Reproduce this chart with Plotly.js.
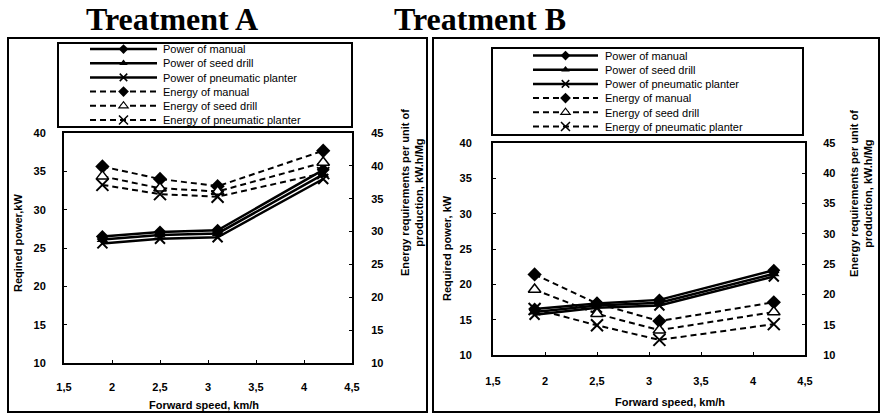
<!DOCTYPE html>
<html>
<head>
<meta charset="utf-8">
<script src="https://cdn.plot.ly/plotly-3.0.1.min.js"></script>
<style>
html,body{margin:0;padding:0;background:#fff;}
#chart{width:881px;height:416px;}
</style>
</head>
<body>
<div id="chart"></div>
<script>
// ---------- DATA ----------
const seriesNames = ["Power of manual", "Power of seed drill", "Power of pneumatic planter",
                     "Energy of manual", "Energy of seed drill", "Energy of pneumatic planter"];
const speedA = [1.9, 2.5, 3.1, 4.2];
const powerManualA   = [26.5, 27.1, 27.3, 35.2];
const powerSeedA     = [26.1, 26.7, 26.9, 34.6];
const powerPneuA     = [25.6, 26.2, 26.4, 34.0];
const energyManualA  = [39.9, 38.0, 36.9, 42.3];
const energySeedA    = [38.4, 36.6, 36.1, 40.5];
const energyPneuA    = [37.1, 35.7, 35.3, 38.9];

const speedB = [1.9, 2.5, 3.1, 4.2];
const powerManualB   = [16.5, 17.3, 17.8, 22.0];
const powerSeedB     = [16.1, 17.0, 17.4, 21.5];
const powerPneuB     = [15.7, 16.7, 17.0, 21.1];
const energyManualB  = [23.3, 18.5, 15.6, 18.7];
const energySeedB    = [20.8, 16.8, 14.1, 17.1];
const energyPneuB    = [17.6, 14.9, 12.5, 15.1];

const xTicks = [1.5, 2, 2.5, 3, 3.5, 4, 4.5];
const powerTicks = [10, 15, 20, 25, 30, 35, 40];
const energyTicks = [10, 15, 20, 25, 30, 35, 40, 45];

// ---------- STYLES ----------
const W = 881, H = 416;
const px = v => v / W;
const py = v => 1 - v / H;
const FONT = "Liberation Sans, Arial, sans-serif";

const markerStyles = [
  {symbol: "diamond", size: 10, color: "#000"},
  {symbol: "triangle-up", size: 10, color: "#000"},
  {symbol: "x-thin", size: 10, color: "#000", line: {color: "#000", width: 2}},
  {symbol: "diamond", size: 11, color: "#000"},
  {symbol: "triangle-up", size: 11, color: "#fff", line: {color: "#000", width: 1.5}},
  {symbol: "x-thin", size: 12, color: "#000", line: {color: "#000", width: 2}}
];
const lineStyles = [
  {color: "#000", width: 2.5},
  {color: "#000", width: 2.5},
  {color: "#000", width: 2.5},
  {color: "#000", width: 2, dash: "6px,4px"},
  {color: "#000", width: 2, dash: "6px,4px"},
  {color: "#000", width: 2, dash: "6px,4px"}
];

function makeTraces(xs, ys, xa, yPow, yEn, legendId) {
  return ys.map((y, i) => ({
    type: "scatter", mode: "lines+markers",
    x: xs, y: y, name: seriesNames[i],
    xaxis: xa, yaxis: i < 3 ? yPow : yEn,
    line: lineStyles[i], marker: markerStyles[i],
    legend: legendId, showlegend: true
  }));
}

const traces = [
  ...makeTraces(speedA, [powerManualA, powerSeedA, powerPneuA, energyManualA, energySeedA, energyPneuA], "x", "y", "y2", "legend"),
  ...makeTraces(speedB, [powerManualB, powerSeedB, powerPneuB, energyManualB, energySeedB, energyPneuB], "x2", "y3", "y4", "legend2")
];

const tickFont = {family: FONT, size: 11, color: "#000", weight: "bold"};
function xAxis(dom, anchor, standoff) {
  return {domain: dom, anchor: anchor, range: [1.5, 4.5], tickvals: xTicks,
    showline: true, linecolor: "#000", linewidth: 2, mirror: true,
    showgrid: false, zeroline: false, ticks: "inside", ticklen: 3, tickcolor: "#000",
    tickfont: tickFont, ticklabelstandoff: standoff, automargin: false, fixedrange: true};
}
function yAxis(dom, anchor, range, tv, side, standoff, overlay) {
  const a = {anchor: anchor, range: range, tickvals: tv, side: side,
    showline: true, linecolor: "#000", linewidth: 2, mirror: overlay ? false : true,
    showgrid: false, zeroline: false, ticks: "inside", ticklen: 3, tickcolor: "#000",
    tickfont: tickFont, ticklabelstandoff: standoff, automargin: false, fixedrange: true};
  if (overlay) a.overlaying = overlay; else a.domain = dom;
  return a;
}

const domAx = [px(64), px(352)], domAy = [py(363), py(133)];
const domBx = [px(493), px(805)], domBy = [py(355), py(143)];

const titleFont = {family: FONT, size: 11, color: "#000", weight: "bold"};
function ann(text, x, y, angle, font, extra) {
  return Object.assign({text: text, x: px(x), y: py(y), xref: "paper", yref: "paper",
    xanchor: "center", yanchor: "middle", showarrow: false, textangle: angle || 0,
    font: font, align: "center"}, extra || {});
}
const serif = {family: "Liberation Serif, Times New Roman, serif", size: 32, color: "#000", weight: "bold"};

const layout = {
  width: W, height: H,
  margin: {l: 0, r: 0, t: 0, b: 0},
  paper_bgcolor: "#fff", plot_bgcolor: "#fff",
  separators: ", ",
  font: {family: FONT, color: "#000"},
  xaxis: xAxis(domAx, "y", 13),
  yaxis: yAxis(domAy, "x", [10, 40], powerTicks, "left", 14),
  yaxis2: yAxis(null, "x", [10, 45], energyTicks, "right", 15, "y"),
  xaxis2: xAxis(domBx, "y3", 15),
  yaxis3: yAxis(domBy, "x2", [10, 40], powerTicks, "left", 17),
  yaxis4: yAxis(null, "x2", [10, 45], energyTicks, "right", 14, "y3"),
  legend: {x: px(60), y: py(43), xanchor: "left", yanchor: "top", bgcolor: "#fff",
    bordercolor: "#000", borderwidth: 2, font: {family: FONT, size: 11, color: "#000"}, tracegroupgap: 0},
  legend2: {x: px(494), y: py(48), xanchor: "left", yanchor: "top", bgcolor: "#fff",
    bordercolor: "#000", borderwidth: 2, font: {family: FONT, size: 11, color: "#000"}, tracegroupgap: 0},
  shapes: [
    {type: "rect", xref: "paper", yref: "paper", x0: px(8), x1: px(427), y0: py(412), y1: py(38),
     line: {color: "#000", width: 2}, layer: "below"},
    {type: "rect", xref: "paper", yref: "paper", x0: px(433), x1: px(879), y0: py(412), y1: py(38),
     line: {color: "#000", width: 2}, layer: "below"}
  ],
  annotations: [
    ann("Treatment A", 172, 19, 0, serif),
    ann("Treatment B", 480, 19, 0, serif),
    ann("Reqined power,kW", 18, 243, -90, titleFont),
    ann("Energy requirements per unit of<br>production, kW.h/Mg", 412, 193, -90, titleFont),
    ann("Forward speed, km/h", 204, 405, 0, titleFont),
    ann("Required power, kW", 447, 248, -90, titleFont),
    ann("Energy requirements per unit of<br>production, kW.h/Mg", 861, 194, -90, titleFont),
    ann("Forward speed, km/h", 670, 402, 0, titleFont)
  ],
  showlegend: true
};

// Compact the legends to the reference spacing (Plotly's minimum row height is larger)
function fixLegend(gd, cls, box, row0, step, lineX0, lineLen, textGap) {
  const lg = gd.querySelector("g." + cls);
  if (!lg) return;
  const m = /translate\(\s*([-\d.]+)[ ,]+([-\d.]+)/.exec(lg.getAttribute("transform") || "");
  const lx = m ? parseFloat(m[1]) : 0, ly = m ? parseFloat(m[2]) : 0;
  const sb = lg.querySelector("g.scrollbox");
  if (sb) sb.removeAttribute("clip-path");
  const bg = lg.querySelector("rect.bg");
  if (bg) {
    bg.setAttribute("x", box[0] - lx); bg.setAttribute("y", box[1] - ly);
    bg.setAttribute("width", box[2] - box[0]); bg.setAttribute("height", box[3] - box[1]);
  }
  const items = Array.from(lg.querySelectorAll("g.traces"));
  items.forEach((it, i) => {
    const tx = it.querySelector("text.legendtext");
    let tX = 40;
    if (tx) { const v = parseFloat(tx.getAttribute("x")); if (!isNaN(v)) tX = v; }
    // keep the text where Plotly put it inside the item; move the item so text starts at the right spot
    const textStart = lineX0 + lineLen + textGap;
    it.setAttribute("transform", "translate(" + (textStart - tX - lx) + "," + (row0 + i * step - ly) + ")");
    const l0 = tX - textGap - lineLen;
    const ln = it.querySelector("path.js-line");
    if (ln) ln.setAttribute("d", "M" + l0 + ",0h" + lineLen);
    it.querySelectorAll("path.scatterpts").forEach(p =>
      p.setAttribute("transform", "translate(" + (l0 + lineLen / 2) + ",0) scale(0.75)"));
    const tg = it.querySelector("rect.legendtoggle");
    if (tg) tg.setAttribute("height", 0);
  });
}
function fixAll(gd) {
  fixLegend(gd, "legend", [58, 43, 352, 127], 49, 14.2, 90, 67, 6);
  fixLegend(gd, "legend2", [492, 48, 803, 135], 55.5, 14.2, 533, 65, 7);
}

Plotly.newPlot("chart", traces, layout, {staticPlot: true, displayModeBar: false}).then(gd => {
  fixAll(gd);
  requestAnimationFrame(() => fixAll(gd));
  setTimeout(() => fixAll(gd), 50);
  setTimeout(() => fixAll(gd), 300);
});
</script>
</body>
</html>
